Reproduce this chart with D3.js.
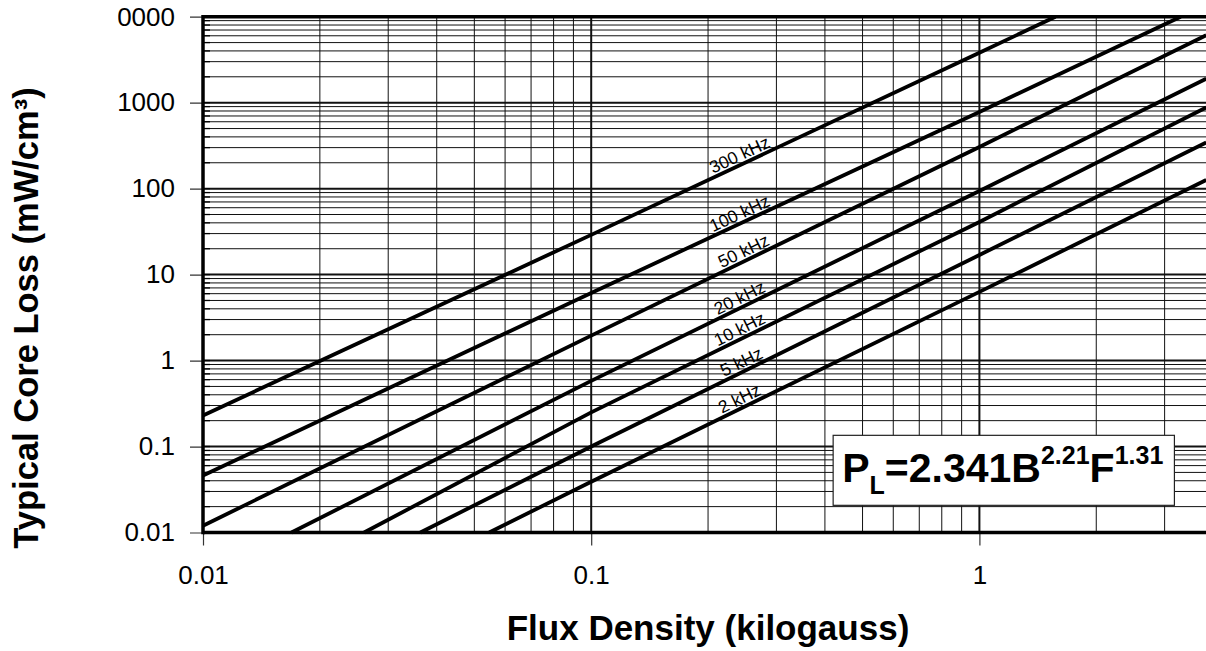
<!DOCTYPE html>
<html>
<head>
<meta charset="utf-8">
<script src="https://cdn.jsdelivr.net/npm/d3@7"></script>
<style>
  body { margin: 0; background: #fff; }
  svg { display: block; font-family: "Liberation Sans", Arial, sans-serif; }
</style>
</head>
<body>
<svg id="chart" width="1206" height="651"></svg>
<script>
const freqLabels = ['300 kHz', '100 kHz', '50 kHz', '20 kHz', '10 kHz', '5 kHz', '2 kHz'];
// flux density (kG) where each curve was read
const fluxPoints = [
  [0.01, 0.1, 1, 1.57],
  [0.01, 0.1, 1, 3.3],
  [0.01, 0.1, 1, 3.84],
  [0.0169, 0.1, 1, 3.84],
  [0.026, 0.1, 1, 3.84],
  [0.0363, 0.1, 1, 3.84],
  [0.0546, 0.1, 1, 3.84]
];
// core loss (mW/cm3) at those flux values
const lossPoints = [
  [0.23, 29, 3800, 10000],
  [0.046, 6.1, 780, 10000],
  [0.012, 1.95, 305, 6100],
  [0.01, 0.58, 94, 1900],
  [0.01, 0.25, 41, 880],
  [0.01, 0.1, 16.9, 345],
  [0.01, 0.039, 6.3, 126]
];
// where along each curve the frequency label sits
const labelFlux = [0.247, 0.247, 0.253, 0.247, 0.247, 0.25, 0.247];
const xTickValues = [0.01, 0.1, 1];
const xTickLabels = ['0.01', '0.1', '1'];
const yTickValues = [0.01, 0.1, 1, 10, 100, 1000, 10000];
const yTickLabels = ['0.01', '0.1', '1', '10', '100', '1000', '10000'];
const formulaAnchor = [0.42, 0.135];

const svg = d3.select('#chart');
const width = +svg.attr('width');

const plotLeft = 203;
const plotTop = 16.7;
const plotBottom = 532.5;
const decade = 388.2;

// Create scales
const x = d3.scaleLog().domain([0.01, 10]).range([plotLeft, plotLeft + 3 * decade]);
const y = d3.scaleLog().domain([0.01, 10000]).range([plotBottom, plotTop]);

const isMajor = (v) => Math.abs(Math.log10(v) - Math.round(Math.log10(v))) < 1e-6;

// grid
const grid = svg.append('g');
grid.selectAll('.vgrid')
  .data(x.ticks().filter((d) => x(d) > plotLeft + 1 && x(d) <= width))
  .enter()
  .append('line')
  .attr('x1', (d) => x(d))
  .attr('x2', (d) => x(d))
  .attr('y1', plotTop)
  .attr('y2', plotBottom)
  .attr('stroke', '#111')
  .attr('stroke-width', (d) => (isMajor(d) ? 2 : 1));

grid.selectAll('.hgrid')
  .data(y.ticks().filter((d) => y(d) < plotBottom - 1 && y(d) > plotTop + 1))
  .enter()
  .append('line')
  .attr('x1', plotLeft)
  .attr('x2', width)
  .attr('y1', (d) => y(d))
  .attr('y2', (d) => y(d))
  .attr('stroke', '#111')
  .attr('stroke-width', (d) => (isMajor(d) ? 2 : 1));

// little inside ticks on the left border
grid.selectAll('.ytickin')
  .data(y.ticks())
  .enter()
  .append('line')
  .attr('x1', plotLeft)
  .attr('x2', plotLeft + 7)
  .attr('y1', (d) => y(d))
  .attr('y2', (d) => y(d))
  .attr('stroke', '#000')
  .attr('stroke-width', 1.3);

// axes
const yAxis = d3.axisLeft(y)
  .tickValues(yTickValues)
  .tickFormat((d, i) => yTickLabels[i])
  .tickSize(13)
  .tickPadding(15);
const xAxis = d3.axisBottom(x)
  .tickValues(xTickValues)
  .tickFormat((d, i) => xTickLabels[i])
  .tickSize(13)
  .tickPadding(20);

// the left end of the top label falls off the page in the original
svg.append('clipPath').attr('id', 'ylabclip')
  .append('rect').attr('x', -85.6).attr('y', 0).attr('width', width).attr('height', 651);

const gy = svg.append('g')
  .attr('transform', `translate(${plotLeft},0)`)
  .attr('clip-path', 'url(#ylabclip)')
  .call(yAxis);
const gx = svg.append('g')
  .attr('transform', `translate(0,${plotBottom})`)
  .call(xAxis);

[gx, gy].forEach((g) => {
  g.select('.domain').remove();
  g.selectAll('.tick line').attr('stroke', '#333').attr('stroke-width', 1.2);
  g.selectAll('.tick text')
    .attr('fill', '#000')
    .style('font-family', '"Liberation Sans", Arial, sans-serif')
    .style('font-size', '26px');
});

// loss curves
const plot = svg.append('g');
const line = d3.line().x((d) => x(d[0])).y((d) => y(d[1]));
const series = freqLabels.map((f, i) => fluxPoints[i].map((b, j) => [b, lossPoints[i][j]]));

plot.selectAll('.curve')
  .data(series)
  .enter()
  .append('path')
  .attr('d', line)
  .attr('fill', 'none')
  .attr('stroke', '#000')
  .attr('stroke-width', 3.8);

// labels along the curves
series.forEach((pts, i) => {
  const b = labelFlux[i];
  let k = 0;
  while (k < pts.length - 2 && pts[k + 1][0] < b) k++;
  const [b0, p0] = pts[k];
  const [b1, p1] = pts[k + 1];
  const t = (Math.log10(b) - Math.log10(b0)) / (Math.log10(b1) - Math.log10(b0));
  const p = Math.pow(10, Math.log10(p0) + t * (Math.log10(p1) - Math.log10(p0)));
  const angle = Math.atan2(y(p1) - y(p0), x(b1) - x(b0)) * 180 / Math.PI;
  plot.append('text')
    .attr('transform', `translate(${x(b)},${y(p)}) rotate(${angle})`)
    .attr('dy', -3.5)
    .attr('text-anchor', 'middle')
    .style('font-size', '17.5px')
    .text(freqLabels[i]);
});

// frame
svg.append('line').attr('x1', plotLeft).attr('x2', width).attr('y1', plotTop).attr('y2', plotTop)
  .attr('stroke', '#000').attr('stroke-width', 3.5);
svg.append('line').attr('x1', plotLeft).attr('x2', width).attr('y1', plotBottom).attr('y2', plotBottom)
  .attr('stroke', '#000').attr('stroke-width', 3.5);
svg.append('line').attr('x1', plotLeft).attr('x2', plotLeft).attr('y1', plotTop - 1.7).attr('y2', plotBottom + 1.7)
  .attr('stroke', '#000').attr('stroke-width', 3.5);

// formula box
const fx = x(formulaAnchor[0]);
const fy = y(formulaAnchor[1]);
const box = svg.append('rect')
  .attr('x', fx)
  .attr('y', fy)
  .attr('height', 70)
  .attr('fill', '#fff')
  .attr('stroke', '#222')
  .attr('stroke-width', 1.2);
const formula = svg.append('text')
  .attr('x', fx + 9)
  .attr('y', fy + 47)
  .style('font-weight', 'bold')
  .style('font-size', '41px');
formula.append('tspan').text('P');
formula.append('tspan').attr('dy', 12).style('font-size', '25px').text('L');
formula.append('tspan').attr('dy', -12).text('=2.341B');
formula.append('tspan').attr('dy', -18).style('font-size', '25px').text('2.21');
formula.append('tspan').attr('dy', 18).text('F');
formula.append('tspan').attr('dy', -18).style('font-size', '25px').text('1.31');
box.attr('width', formula.node().getBBox().width + 20);

// axis titles
svg.append('text')
  .attr('x', 708)
  .attr('y', 640)
  .attr('text-anchor', 'middle')
  .style('font-weight', 'bold')
  .style('font-size', '35px')
  .text('Flux Density (kilogauss)');

svg.append('text')
  .attr('transform', 'translate(38,318) rotate(-90)')
  .attr('text-anchor', 'middle')
  .style('font-weight', 'bold')
  .style('font-size', '34.5px')
  .text('Typical Core Loss (mW/cm³)');
</script>
</body>
</html>
